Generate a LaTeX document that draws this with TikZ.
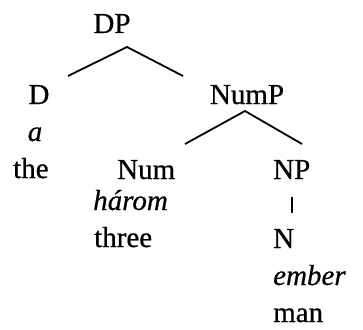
\documentclass[tikz,border=0pt]{standalone}
\usepackage{fontspec}
\setmainfont[FakeBold=0.6,AutoFakeBold=0.6]{Liberation Serif}
\begin{document}
\begin{tikzpicture}[x=1pt,y=-1pt,
  lbl/.style={anchor=base west,inner sep=0pt,font=\fontsize{29}{31}\selectfont},
  clbl/.style={anchor=base,inner sep=0pt,font=\fontsize{29}{31}\selectfont},
  branch/.style={line width=1.8pt}]
\useasboundingbox[fill=white] (0,0) rectangle (363,329);
\node[clbl] (DP) at (112,33) {DP};
\node[clbl] (D) at (39,104) {D};
\node[clbl] (NumP) at (247,104) {NumP};
\node[clbl] (a) at (35,141) {\itshape a};
\node[lbl] (the) at (13,178) {the};
\node[lbl] (Num) at (117,179) {Num};
\node[lbl] (NP) at (273,179) {NP};
\node[lbl] (harom) at (93,210) {\itshape három};
\node[lbl] (three) at (94,247) {three};
\node[lbl] (N) at (273,248) {N};
\node[lbl] (ember) at (273,285) {\itshape ember};
\node[lbl] (man) at (273,322) {man};
\coordinate (dpTop) at (127,47);
\coordinate (dpL) at (68,76);
\coordinate (dpR) at (183,76);
\coordinate (numpTop) at (245,111);
\coordinate (numpL) at (185,144);
\coordinate (numpR) at (302,144);
\draw[branch] (dpL) -- (dpTop) -- (dpR);
\draw[branch] (numpL) -- (numpTop) -- (numpR);
\draw[line width=2.4pt] (NP.south) ++(0,18) -- ++(0,16);
\end{tikzpicture}
\end{document}
